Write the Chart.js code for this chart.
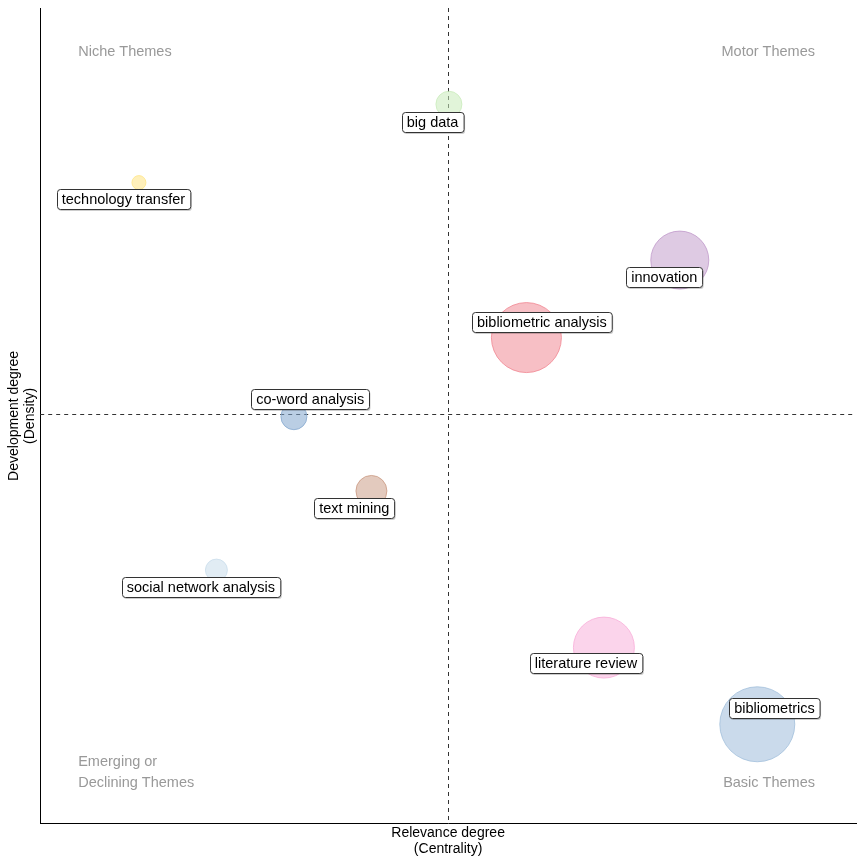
<!DOCTYPE html>
<html>
<head>
<meta charset="utf-8">
<script src="https://cdn.jsdelivr.net/npm/chart.js@4.4.1/dist/chart.umd.min.js"></script>
<style>
  html, body { margin: 0; padding: 0; background: #fff; }
  #wrap { width: 864px; height: 864px; }
</style>
</head>
<body>
<div id="wrap"><canvas id="map"></canvas></div>
<script>
// thematic map data (centrality / density)
const themes = ["bibliometrics", "bibliometric analysis", "innovation", "literature review",
  "big data", "co-word analysis", "text mining", "technology transfer", "social network analysis"];
const centrality = [0.879, 0.596, 0.784, 0.691, 0.501, 0.311, 0.406, 0.121, 0.216];
const density = [0.122, 0.596, 0.691, 0.216, 0.882, 0.499, 0.408, 0.786, 0.311];
const bubbleSize = [37.5, 35, 29, 30.5, 13, 13, 15.5, 7, 11];
// where the repelled labels sit
const labelX = [0.900, 0.615, 0.765, 0.669, 0.481, 0.331, 0.385, 0.102, 0.197];
const labelY = [0.142, 0.615, 0.670, 0.197, 0.860, 0.521, 0.387, 0.766, 0.290];
const fills = ["rgba(158,188,218,0.55)", "rgba(240,128,140,0.5)", "rgba(190,150,200,0.5)",
  "rgba(248,170,215,0.5)", "rgba(200,235,185,0.55)", "rgba(130,165,205,0.55)",
  "rgba(200,150,125,0.5)", "rgba(255,228,130,0.55)", "rgba(200,220,235,0.55)"];
const centralityMean = 0.5;
const densityMean = 0.502;

const FONT = "'Liberation Sans', Arial, Helvetica, sans-serif";

const mapPlugin = {
  id: "mapPlugin",
  beforeDatasetsDraw(chart) {
    const { ctx, chartArea: a, scales } = chart;
    const xm = Math.round(scales.x.getPixelForValue(centralityMean)) + 0.5;
    const ym = Math.round(scales.y.getPixelForValue(densityMean)) + 0.5;
    ctx.save();
    ctx.strokeStyle = "#333";
    ctx.lineWidth = 1;
    ctx.setLineDash([4, 4]);
    ctx.beginPath();
    ctx.moveTo(xm, a.top);
    ctx.lineTo(xm, a.bottom);
    ctx.moveTo(a.left, ym);
    ctx.lineTo(a.right, ym);
    ctx.stroke();
    ctx.setLineDash([]);

    // quadrant names
    ctx.fillStyle = "#999";
    ctx.font = "14.5px " + FONT;
    ctx.textBaseline = "middle";
    ctx.textAlign = "left";
    ctx.fillText("Niche Themes", a.left + 38, a.top + 44);
    ctx.fillText("Emerging or", a.left + 38, a.bottom - 62);
    ctx.fillText("Declining Themes", a.left + 38, a.bottom - 41);
    ctx.textAlign = "right";
    ctx.fillText("Motor Themes", a.right - 41, a.top + 44);
    ctx.fillText("Basic Themes", a.right - 41, a.bottom - 41);
    ctx.restore();
  },
  afterDatasetsDraw(chart) {
    const { ctx, scales } = chart;
    ctx.save();
    ctx.font = "14.5px " + FONT;
    ctx.textAlign = "center";
    ctx.textBaseline = "middle";
    themes.forEach((t, i) => {
      const cx = scales.x.getPixelForValue(labelX[i]);
      const cy = scales.y.getPixelForValue(labelY[i]);
      const w = ctx.measureText(t).width + 10;
      const h = 20;
      const x0 = Math.round(cx - w / 2) + 0.5;
      const y0 = Math.round(cy - h / 2) + 0.5;
      ctx.fillStyle = "rgba(0,0,0,0.2)";
      ctx.beginPath();
      ctx.roundRect(x0 + 1, y0 + 1.5, w, h, 3);
      ctx.fill();
      ctx.fillStyle = "#fff";
      ctx.strokeStyle = "#333";
      ctx.lineWidth = 1;
      ctx.beginPath();
      ctx.roundRect(x0, y0, w, h, 3);
      ctx.fill();
      ctx.stroke();
      ctx.fillStyle = "#000";
      ctx.fillText(t, cx, cy + 1);
    });
    ctx.restore();
  }
};

const points = centrality.map((c, i) => ({ x: c, y: density[i], r: bubbleSize[i] }));

new Chart(document.getElementById("map"), {
  type: "bubble",
  data: {
    datasets: [{
      label: "themes",
      data: points,
      backgroundColor: fills,
      borderColor: fills.map(f => f.replace(/[\d.]+\)$/, "0.75)")),
      borderWidth: 1,
      hoverRadius: 0
    }]
  },
  options: {
    responsive: true,
    maintainAspectRatio: false,
    animation: false,
    layout: { autoPadding: false, padding: { top: 8, right: 8, left: 0, bottom: 0 } },
    plugins: { legend: { display: false }, tooltip: { enabled: false } },
    scales: {
      x: {
        type: "linear",
        min: 0,
        max: 1,
        ticks: { display: false },
        grid: { display: false, drawTicks: false },
        border: { display: true, color: "#000", width: 1 },
        title: {
          display: true,
          text: ["Relevance degree", "(Centrality)"],
          color: "#000",
          font: { family: FONT, size: 14, lineHeight: 1.15 },
          padding: { top: 1, bottom: 7 }
        }
      },
      y: {
        type: "linear",
        min: 0,
        max: 1,
        ticks: { display: false },
        grid: { display: false, drawTicks: false },
        border: { display: true, color: "#000", width: 1 },
        title: {
          display: true,
          text: ["Development degree", "(Density)"],
          color: "#000",
          font: { family: FONT, size: 14, lineHeight: 1.15 },
          padding: { top: 6, bottom: 2 }
        }
      }
    }
  },
  plugins: [mapPlugin]
});
</script>
</body>
</html>
